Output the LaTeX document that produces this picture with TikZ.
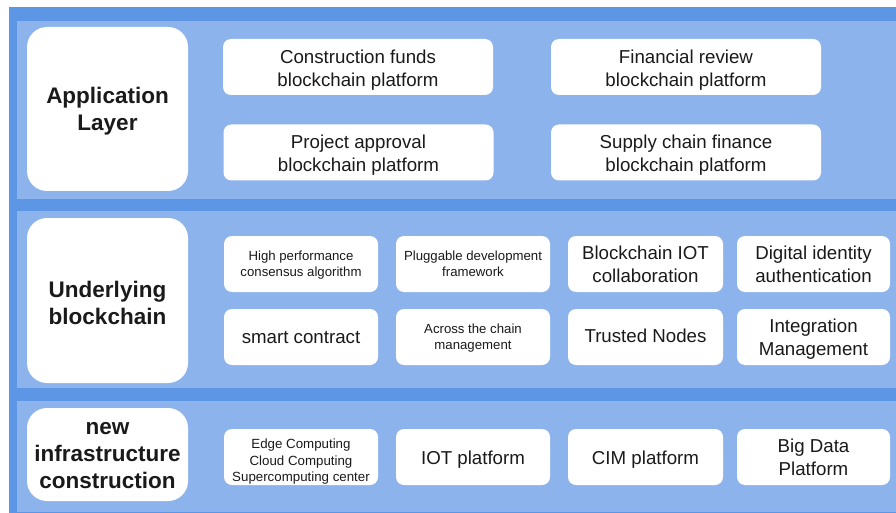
\documentclass[tikz,border=0pt]{standalone}
\usepackage{fontspec}
\setmainfont{Liberation Sans}
\definecolor{frameblue}{HTML}{5E96E6}
\definecolor{bandblue}{HTML}{8DB3EC}
\definecolor{ink}{HTML}{1A1A1A}
% centred lines of text, set a little below the box centre
\newcommand\boxtext[2][2.5pt]{\raisebox{-#1}[\height][\depth]{\begin{tabular}{@{}c@{}}#2\end{tabular}}}
\begin{document}
\begin{tikzpicture}[x=1pt,y=-1pt,
  band/.style={fill=bandblue,draw=none},
  titlebox/.style={fill=white,draw=none,rounded corners=20pt,
    text=ink,font=\fontsize{22.5}{27}\selectfont\bfseries,inner sep=0pt,minimum width=161pt},
  itembox/.style={fill=white,draw=none,rounded corners=8pt,
    text=ink,font=\fontsize{18.7}{23}\selectfont,inner sep=0pt,minimum height=56pt},
  smallbox/.style={itembox,font=\fontsize{13.2}{15.5}\selectfont}
]
\useasboundingbox (0,0) rectangle (896,513);
% frame and the three layer bands
\fill[frameblue] (9,7.5) rectangle (905,520);
\fill[band] (17,21) rectangle (905,199);
\fill[band] (17,211) rectangle (905,388);
\fill[band] (17,401) rectangle (905,512);

% application layer
\node[titlebox,minimum height=164pt] (app) at (107.5,109) {\boxtext{Application\\Layer}};
\node[itembox,minimum width=270pt] (funds) at (358,67) {\boxtext[3pt]{Construction funds\\blockchain platform}};
\node[itembox,minimum width=270pt] (approval) at (358.5,152.5) {\boxtext[3pt]{Project approval\\blockchain platform}};
\node[itembox,minimum width=270pt] (review) at (686,67) {\boxtext[3pt]{Financial review\\blockchain platform}};
\node[itembox,minimum width=270pt] (supply) at (686,152.5) {\boxtext[3pt]{Supply chain finance\\blockchain platform}};

% underlying blockchain
\node[titlebox,minimum height=165pt] (chain) at (107.5,300.5) {\boxtext[5pt]{Underlying\\blockchain}};
\node[smallbox,minimum width=154pt] (consensus) at (301,264) {\boxtext[1.5pt]{High performance\\consensus algorithm}};
\node[smallbox,minimum width=154pt] (pluggable) at (473,264) {\boxtext[1.5pt]{Pluggable development\\framework}};
\node[itembox,minimum width=155pt] (iot) at (645.5,264) {\boxtext[2pt]{Blockchain IOT\\collaboration}};
\node[itembox,minimum width=153pt] (identity) at (813.5,264) {\boxtext[2.5pt]{Digital identity\\authentication}};
\node[itembox,minimum width=154pt] (contract) at (301,337) {\boxtext[2pt]{smart contract}};
\node[smallbox,minimum width=154pt] (crosschain) at (473,337) {\boxtext[1.5pt]{Across the chain\\management}};
\node[itembox,minimum width=155pt] (trusted) at (645.5,337) {\boxtext[1pt]{Trusted Nodes}};
\node[itembox,minimum width=153pt] (integration) at (813.5,337) {\boxtext[2pt]{Integration\\Management}};

% new infrastructure construction
\node[titlebox,minimum height=93pt] (infra) at (107.5,454.5) {\boxtext[1.5pt]{new\\infrastructure\\construction}};
\node[smallbox,minimum width=154pt,font=\fontsize{13.3}{16.5}\selectfont] (computing) at (301,457) {\boxtext[5pt]{Edge Computing\\Cloud Computing\\Supercomputing center}};
\node[itembox,minimum width=154pt] (iotplat) at (473,457) {\boxtext[3pt]{IOT platform}};
\node[itembox,minimum width=155pt] (cim) at (645.5,457) {\boxtext[3pt]{CIM platform}};
\node[itembox,minimum width=153pt] (bigdata) at (813.5,457) {\boxtext[2pt]{Big Data\\Platform}};
\end{tikzpicture}
\end{document}
